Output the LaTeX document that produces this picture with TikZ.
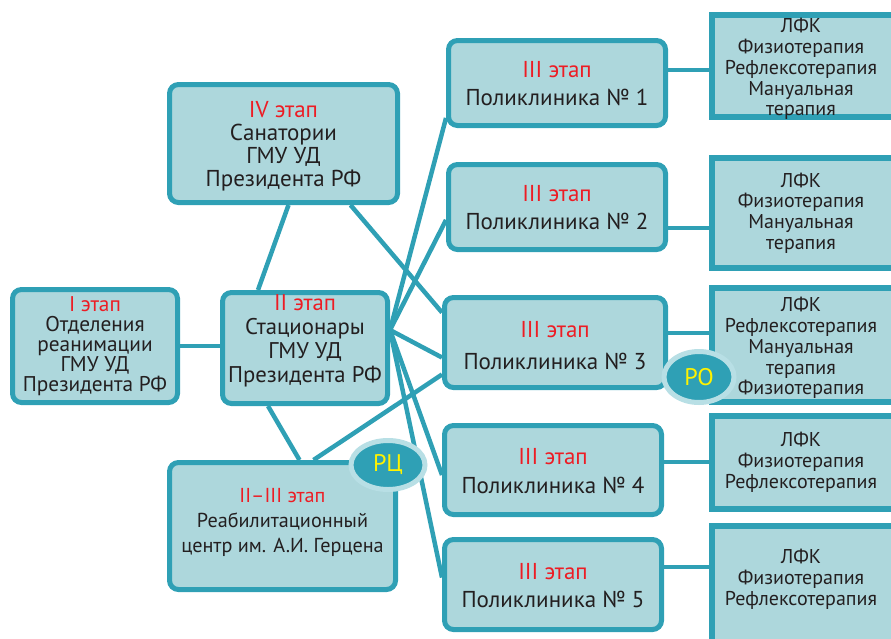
\documentclass[tikz,border=0pt]{standalone}
\usepackage{fontspec}
\setmainfont{PT Sans}
\usetikzlibrary{shapes.geometric,backgrounds}
\definecolor{boxfill}{HTML}{ADD7DC}
\definecolor{boxline}{HTML}{2FA0B5}
\definecolor{ringline}{HTML}{B8DFE5}
\definecolor{etapred}{HTML}{ED1C24}
\definecolor{textdark}{HTML}{231F20}
\definecolor{badgeyel}{HTML}{FFF200}
\newcommand{\etap}[1]{\textcolor{etapred}{#1 этап}}

\begin{document}
\begin{tikzpicture}[x=1pt,y=-1pt,
    stage/.style={draw=boxline,fill=boxfill,line width=5pt,rounded corners=9pt,inner sep=0pt},
    proc/.style={draw=boxline,fill=boxfill,line width=6pt,inner sep=0pt},
    txt/.style={align=center,text=textdark,font=\fontsize{23}{23}\selectfont},
    proctxt/.style={align=center,text=textdark,font=\fontsize{20}{20.8}\selectfont},
    badge/.style={ellipse,draw=ringline,fill=boxline,line width=5pt,text=badgeyel,
      font=\fontsize{24}{24}\selectfont,inner sep=0pt},
    link/.style={draw=boxline,line width=4.5pt}]
    \useasboundingbox (0,0) rectangle (891,638);
    % left column
    \node[stage,minimum width=165pt,minimum height=113pt] (otd) at (95,346) {};
    \node[txt,font=\fontsize{21.3}{20}\selectfont] (otd-t) at (otd.center)
      {\etap{I}\\Отделения\\реанимации\\ГМУ УД\\Президента РФ};
    \node[stage,minimum width=165pt,minimum height=111pt] (stac) at (305,348) {};
    \node[txt,font=\fontsize{22.7}{24}\selectfont] (stac-t) at ([yshift=7pt]stac.center)
      {\etap{II}\\Стационары\\ГМУ УД\\Президента РФ};
    \node[stage,minimum width=228pt,minimum height=118pt] (sana) at (283.5,143.5) {};
    \node[txt] (sana-t) at ([yshift=-3pt]sana.center)
      {\etap{IV}\\Санатории\\ГМУ УД\\Президента РФ};
    \node[stage,minimum width=226pt,minimum height=127pt] (rc) at (282.5,526) {};
    \node[txt,font=\fontsize{20.2}{25}\selectfont] (rc-t) at ([yshift=4pt]rc.center)
      {\etap{II--III}\\Реабилитационный\\центр им. А.И. Герцена};
    % polyclinics
    \node[stage,minimum width=217pt,minimum height=85pt] (p1) at (557,83) {};
    \node[stage,minimum width=217pt,minimum height=85pt] (p2) at (557,207) {};
    \node[stage,minimum width=221pt,minimum height=90pt] (p3) at (555,342.5) {};
    \node[stage,minimum width=217pt,minimum height=89pt] (p4) at (553,470) {};
    \node[stage,minimum width=217pt,minimum height=90pt] (p5) at (553,584.5) {};
    \foreach \i/\dy/\bs in {1/-1/28,2/-1/28,3/-3.5/32,4/-1.5/29,5/-1.5/28} {
      \node[txt,font=\fontsize{23}{\bs}\selectfont] (p\i-t) at ([yshift=\dy pt]p\i.center)
        {\etap{III}\\Поликлиника №~\i};
    }
    % procedures
    \node[proc,minimum width=182pt,minimum height=102pt] (r1) at (803,66) {};
    \node[proctxt] (r1-t) at ([xshift=-2pt,yshift=-3pt]r1.center)
      {ЛФК\\Физиотерапия\\Рефлексотерапия\\Мануальная\\терапия};
    \node[proc,minimum width=182pt,minimum height=110pt] (r2) at (803,213) {};
    \node[proctxt] (r2-t) at ([xshift=-2pt]r2.center)
      {ЛФК\\Физиотерапия\\Мануальная\\терапия};
    \node[proc,minimum width=182pt,minimum height=114pt] (r3) at (803,345) {};
    \node[proctxt] (r3-t) at ([xshift=-2pt,yshift=-3pt]r3.center)
      {ЛФК\\Рефлексотерапия\\Мануальная\\терапия\\Физиотерапия};
    \node[proc,minimum width=182pt,minimum height=93pt] (r4) at (803,462.5) {};
    \node[proctxt] (r4-t) at ([xshift=-2pt]r4.center)
      {ЛФК\\Физиотерапия\\Рефлексотерапия};
    \node[proc,minimum width=182pt,minimum height=118pt] (r5) at (803,585) {};
    \node[proctxt] (r5-t) at ([xshift=-2pt,yshift=6pt]r5.center)
      {ЛФК\\Физиотерапия\\Рефлексотерапия};
    % badges
    \node[badge,minimum width=74pt,minimum height=49pt] (rcb) at (388,465) {РЦ};
    \node[badge,minimum width=70pt,minimum height=51pt] (rob) at (699,377) {РО};
    % connectors
    \begin{scope}[on background layer]
      \coordinate (fan) at ([yshift=18pt]stac.east);
      \draw[link] (otd.east) -- (otd.east -| stac.west);
      \draw[link] ([xshift=5pt]sana.south) -- ([xshift=-47pt]stac.north);
      \draw[link] ([xshift=67pt]sana.south) -- ([yshift=30pt]p3.west);
      \draw[link] ([xshift=-37pt]stac.south) -- ([xshift=17pt]rc.north);
      \draw[link] ([xshift=31pt]rc.north) -- ([yshift=-32pt]p3.west);
      \draw[link] (stac.center) -- (fan);
      \draw[link] (fan) -- ([yshift=10pt]p1.south west);
      \draw[link] (fan) -- ([yshift=-13pt]p2.west);
      \draw[link] (fan) -- ([yshift=-15pt]p3.west);
      \draw[link] (fan) -- ([yshift=-5pt]p4.west);
      \draw[link] (fan) -- ([yshift=7pt]p5.west);
      \draw[link] ([yshift=13pt]p1.east) -- ([yshift=13pt]p1.east -| r1.west);
      \draw[link] ([yshift=-21pt]p2.east) -- ([yshift=-21pt]p2.east -| r2.west);
      \draw[link] ([yshift=9.5pt]p3.east) -- ([yshift=9.5pt]p3.east -| r3.west);
      \draw[link] ([yshift=8pt]p4.east) -- ([yshift=8pt]p4.east -| r4.west);
      \draw[link] ([yshift=17.5pt]p5.east) -- ([yshift=17.5pt]p5.east -| r5.west);
    \end{scope}
\end{tikzpicture}
\end{document}
